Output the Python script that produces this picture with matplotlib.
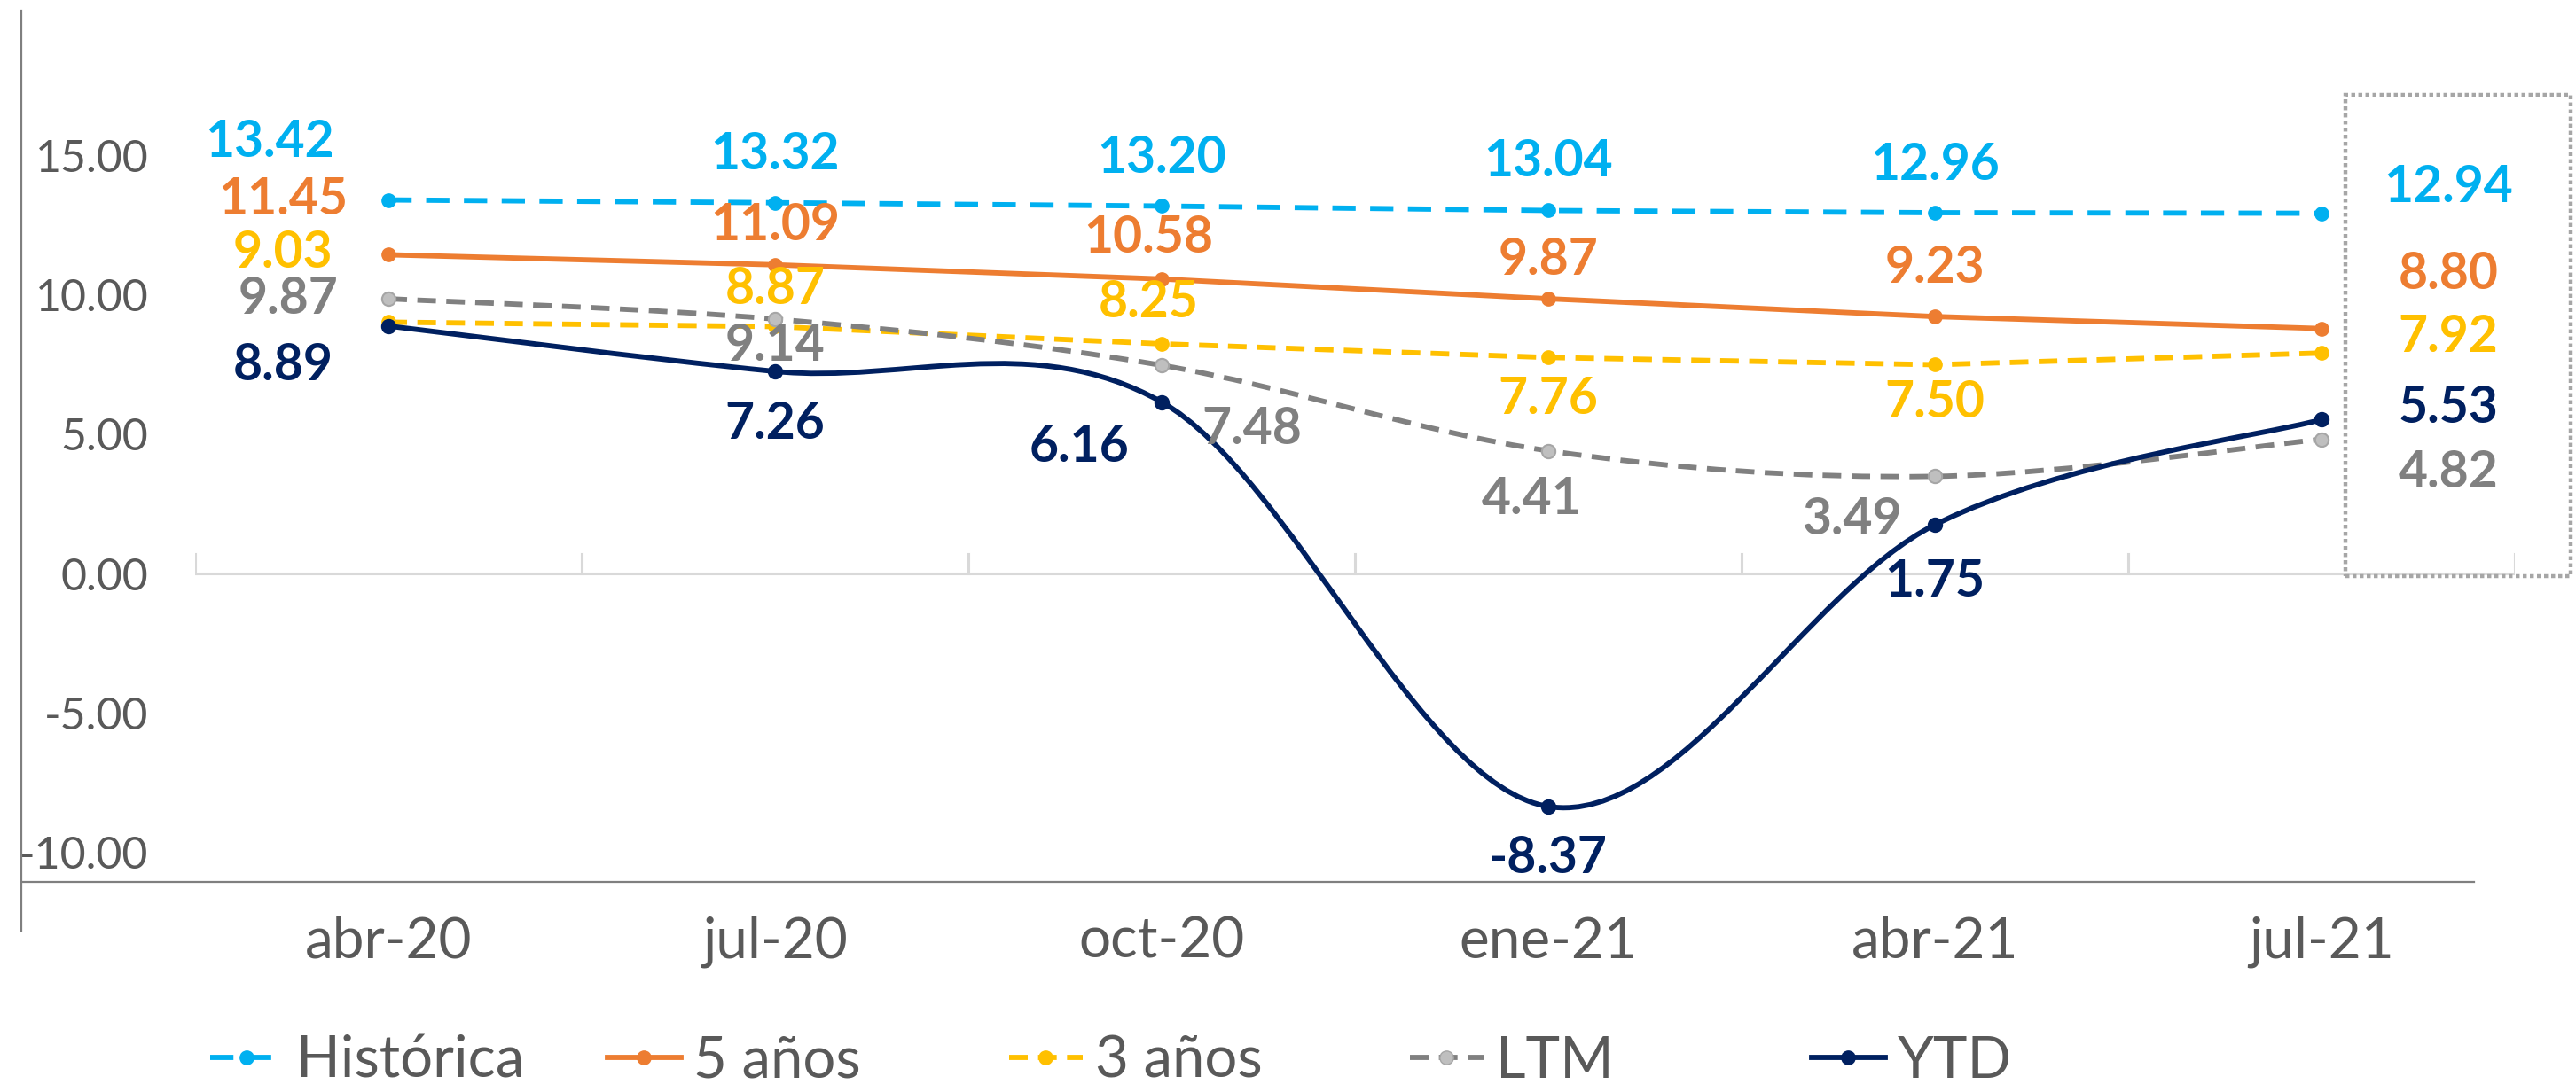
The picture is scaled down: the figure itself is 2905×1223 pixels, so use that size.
import matplotlib
matplotlib.use("Agg")
import matplotlib.pyplot as plt
from matplotlib.path import Path
from matplotlib.patches import PathPatch, Rectangle
from matplotlib.lines import Line2D

# ---------------- data ----------------
categories = ["abr-20", "jul-20", "oct-20", "ene-21", "abr-21", "jul-21"]
historica = [13.42, 13.32, 13.20, 13.04, 12.96, 12.94]
cinco_anos = [11.45, 11.09, 10.58, 9.87, 9.23, 8.80]
tres_anos = [9.03, 8.87, 8.25, 7.76, 7.50, 7.92]
ltm = [9.87, 9.14, 7.48, 4.41, 3.49, 4.82]
ytd = [8.89, 7.26, 6.16, -8.37, 1.75, 5.53]
series_names = ["Histórica", "5 años", "3 años", "LTM", "YTD"]
y_ticks = [-10, -5, 0, 5, 10, 15]

# ---------------- styles / layout ----------------
plt.rcParams["font.family"] = ["Lato", "DejaVu Sans"]
W, H = 2905, 1223
TXT = "#595959"

styles = {
    "Histórica": dict(color="#00B0F0", ls=(0, (4.5, 2.8)), mfc="#00B0F0", mec="#00B0F0", smooth=False, lc="#00B0F0"),
    "5 años": dict(color="#ED7D31", ls="-", mfc="#ED7D31", mec="#ED7D31", smooth=False, lc="#ED7D31"),
    "3 años": dict(color="#FFC000", ls=(0, (3.6, 2.0)), mfc="#FFC000", mec="#FFC000", smooth=False, lc="#FFC000"),
    "LTM": dict(color="#808080", ls=(0, (3.6, 2.0)), mfc="#BFBFBF", mec="#A6A6A6", smooth=True, lc="#808080"),
    "YTD": dict(color="#002060", ls="-", mfc="#002060", mec="#002060", smooth=True, lc="#002060"),
}
# label offsets in pixels (dx, dy) per point
offsets = {
    "Histórica": [(-134, 65), (0, 54), (0, 54), (0, 55), (0, 54), (143, 29)],
    "5 años": [(-119, 62), (0, 44), (-15, 46), (0, 44), (0, 55), (143, 61)],
    "3 años": [(-119, 78), (0, 42), (-15, 46), (0, -47), (0, -43), (143, 18)],
    "LTM": [(-113, 0), (0, -31), (102, -72), (-19, -55), (-94, -49), (143, -38)],
    "YTD": [(-119, -45), (0, -59), (-93, -51), (0, -59), (0, -64), (143, 13)],
}
values = {"Histórica": historica, "5 años": cinco_anos, "3 años": tres_anos, "LTM": ltm, "YTD": ytd}

LW = 4.2
MS = 11


def smooth_path(xs, ys):
    pts = list(zip(xs, ys))
    n = len(pts)
    verts = [pts[0]]
    codes = [Path.MOVETO]
    for i in range(n - 1):
        p0 = pts[max(i - 1, 0)]
        p1 = pts[i]
        p2 = pts[i + 1]
        p3 = pts[min(i + 2, n - 1)]
        c1 = (p1[0] + (p2[0] - p0[0]) / 6, p1[1] + (p2[1] - p0[1]) / 6)
        c2 = (p2[0] - (p3[0] - p1[0]) / 6, p2[1] - (p3[1] - p1[1]) / 6)
        verts += [c1, c2, p2]
        codes += [Path.CURVE4] * 3
    return Path(verts, codes)


fig = plt.figure(figsize=(W / 100, H / 100), dpi=100)
ax = fig.add_axes([220 / W, 1 - 995 / H, 2616 / W, (995 - 12) / H])
n = len(categories)
xs = list(range(n))
ax.set_xlim(-0.5, n - 0.5)
ax.set_ylim(-11.08, 20.22)

# zero (category) axis line and its ticks
ax.axhline(0, color="#D9D9D9", lw=2.2, zorder=1)
for b in range(n + 1):
    ax.plot([b - 0.5, b - 0.5], [0, 0.7], color="#D9D9D9", lw=2.2, zorder=1)

for name in series_names:
    st = styles[name]
    ys = values[name]
    if st["smooth"]:
        patch = PathPatch(smooth_path(xs, ys), fill=False, edgecolor=st["color"], lw=LW,
                          linestyle=st["ls"], zorder=3, capstyle="butt")
        ax.add_patch(patch)
        ax.plot(xs, ys, ls="none", marker="o", ms=MS, mfc=st["mfc"], mec=st["mec"], mew=1.5, zorder=4)
    else:
        ax.plot(xs, ys, color=st["color"], lw=LW, ls=st["ls"], marker="o", ms=MS,
                mfc=st["mfc"], mec=st["mec"], zorder=3)
    for i, v in enumerate(ys):
        dx, dy = offsets[name][i]
        ax.annotate(f"{v:.2f}", xy=(i, v), xytext=(dx, dy), textcoords="offset pixels",
                    ha="center", va="center", fontsize=41, fontweight="bold",
                    color=st["lc"], zorder=6)

ax.set_yticks(y_ticks)
ax.set_yticklabels([f"{t:.2f}" for t in y_ticks])
ax.set_xticks(xs)
ax.set_xticklabels(categories)
ax.tick_params(axis="y", length=0, pad=38, labelsize=36, labelcolor=TXT)
ax.tick_params(axis="x", length=0, pad=28, labelsize=46, labelcolor=TXT)
for s in ax.spines.values():
    s.set_visible(False)

# outer frame lines
fig.add_artist(Line2D([24 / W, 24 / W], [1 - 12 / H, 1 - 1050 / H], transform=fig.transFigure,
                      color="#7F7F7F", lw=1.6))
fig.add_artist(Line2D([24 / W, 2790 / W], [1 - 995 / H, 1 - 995 / H], transform=fig.transFigure,
                      color="#7F7F7F", lw=1.6))
# dotted highlight box
fig.add_artist(Rectangle((2645 / W, 1 - 650 / H), (2899 - 2645) / W, (650 - 107) / H,
                         transform=fig.transFigure, fill=False, ec="#A6A6A6",
                         ls=(0, (1, 0.8)), lw=3.2))

# legend: one entry each at fixed positions
leg_x = [237, 685, 1138, 1590, 2043]
for name, lx in zip(series_names, leg_x):
    st = styles[name]
    h = Line2D([], [], color=st["color"], lw=LW, ls=st["ls"], marker="o", ms=MS,
               mfc=st["mfc"], mec=st["mec"])
    fig.legend([h], [name], loc="center left", bbox_to_anchor=(lx / W, 1 - 1197 / H),
               frameon=False, fontsize=47, labelcolor=TXT, borderpad=0, borderaxespad=0,
               handlelength=1.27, handletextpad=0.22)

fig.savefig("out.png", dpi=100, facecolor="white")
